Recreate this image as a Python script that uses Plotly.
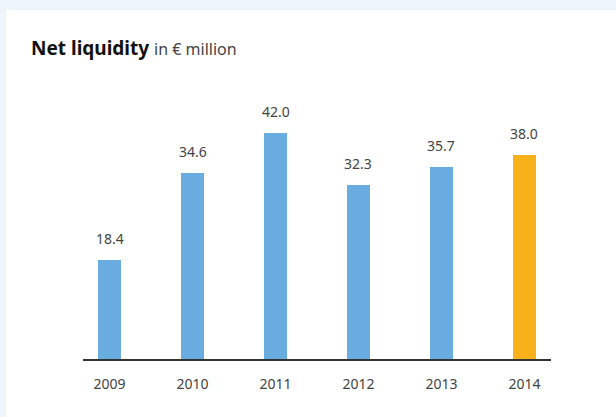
import plotly.graph_objects as go

# Net liquidity, € million
years = ["2009", "2010", "2011", "2012", "2013", "2014"]
values = [18.4, 34.6, 42.0, 32.3, 35.7, 38.0]
bar_colors = ["#69ace0", "#69ace0", "#69ace0", "#69ace0", "#69ace0", "#f9b11b"]
value_labels = [f"{v:.1f}" for v in values]

FONT = "Noto Sans"
W, H = 616, 417
L, R, T, B = 83, 65, 90, 58

fig = go.Figure()
fig.add_trace(go.Bar(
    x=years, y=values, width=0.28,
    marker=dict(color=bar_colors, line=dict(width=0)),
    hoverinfo="skip",
))

# value labels above each bar (category index used as x position)
for i, (v, lab) in enumerate(zip(values, value_labels)):
    fig.add_annotation(
        x=i, y=v, xref="x", yref="y", text=lab, showarrow=False,
        yanchor="bottom", yshift=10,
        font=dict(family=FONT, size=14, color="#444444"),
    )

# white card on a pale blue page
pw, ph = W - L - R, H - T - B
fig.add_shape(
    type="rect", xref="paper", yref="paper", layer="below",
    x0=(6 - L) / pw, x1=(W + 5 - L) / pw,
    y0=-(B + 5) / ph, y1=(H - B - 10) / ph,
    fillcolor="white", line=dict(width=0),
)

fig.update_layout(
    width=W, height=H,
    margin=dict(l=L, r=R, t=T, b=B),
    paper_bgcolor="#edf4fc",
    plot_bgcolor="rgba(0,0,0,0)",
    showlegend=False,
    bargap=0,
    title=dict(
        text="<b>Net liquidity</b> <span style='font-size:16px;color:#444444'>in € million</span>",
        xref="container", yref="container",
        x=31 / W, y=1 - 48 / H, xanchor="left", yanchor="middle",
        font=dict(family=FONT, size=19, color="#111111"),
    ),
    xaxis=dict(
        type="category", range=[-0.32, 5.32],
        showgrid=False, zeroline=False,
        showline=True, linecolor="#333333", linewidth=1.5,
        ticks="", ticklabelstandoff=11,
        tickfont=dict(family=FONT, size=14, color="#444444"),
        fixedrange=True,
    ),
    yaxis=dict(
        range=[0, 50], visible=False, fixedrange=True,
    ),
)

fig.write_html("out.html")
